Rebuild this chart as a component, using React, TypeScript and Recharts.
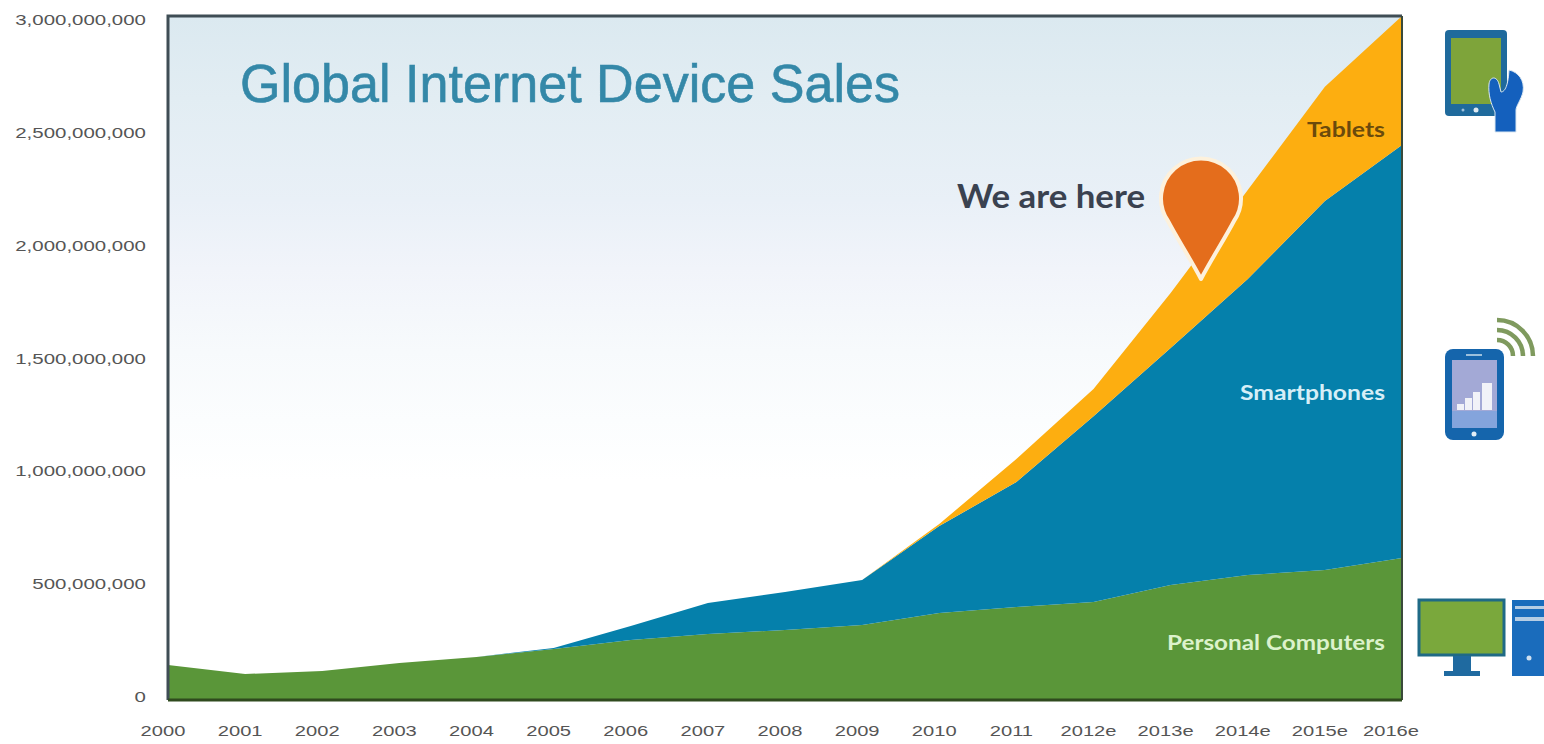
import React from "react";
import {
  AreaChart,
  Area,
  XAxis,
  YAxis,
  CartesianGrid,
} from "recharts";

// Annual unit sales, in millions
const years = ["2000", "2001", "2002", "2003", "2004", "2005", "2006", "2007", "2008", "2009", "2010", "2011", "2012e", "2013e", "2014e", "2015e", "2016e"];
const personalComputers = [153, 114, 127, 162, 189, 224, 263, 290, 307, 329, 382, 408, 430, 504, 548, 570, 623];
const smartphones = [0, 0, 0, 0, 0, 4, 62, 135, 167, 197, 381, 548, 815, 1040, 1298, 1619, 1811];
const tablets = [0, 0, 0, 0, 0, 0, 0, 0, 0, 0, 9, 101, 119, 241, 391, 501, 566];
const valueTicks = [0, 500000000, 1000000000, 1500000000, 2000000000, 2500000000, 3000000000];

const rows = years.map((year, i) => ({
  year,
  pc: personalComputers[i] * 1e6,
  phone: smartphones[i] * 1e6,
  tablet: tablets[i] * 1e6,
}));

const WIDTH = 1544;
const HEIGHT = 744;
const PLOT = { left: 168, top: 16, right: 1402, bottom: 700 };
const TICK_FONT = "'Liberation Sans', Arial, sans-serif";
const LABEL_FONT = "Lato, sans-serif";

function ValueTick({ y, payload }: any) {
  // labels sit slightly inside the plot height
  const labelY = 358.5 + (y - 358) * 0.99;
  return (
    <text
      transform={`translate(146 ${labelY}) scale(1.32 1)`}
      textAnchor="end"
      dominantBaseline="central"
      fontFamily={TICK_FONT}
      fontSize={15.5}
      fill="#555"
    >
      {payload.value.toLocaleString("en-US")}
    </text>
  );
}

function YearTick({ x, y, payload, index }: any) {
  const nudge = index === years.length - 1 ? -11 : -5;
  return (
    <text
      transform={`translate(${x + nudge} ${y + 28}) scale(1.3 1)`}
      textAnchor="middle"
      fontFamily={TICK_FONT}
      fontSize={15.5}
      fill="#555"
    >
      {payload.value}
    </text>
  );
}

function SeriesLabel({ x, y, width, fill, children }: any) {
  return (
    <text
      x={x}
      y={y}
      textLength={width}
      lengthAdjust="spacingAndGlyphs"
      fontFamily={LABEL_FONT}
      fontWeight={700}
      fontSize={20}
      fill={fill}
    >
      {children}
    </text>
  );
}

function TabletIcon() {
  return (
    <g>
      <rect x={1445} y={30} width={62} height={86} rx={4} fill="#1f6a9c" />
      <rect x={1451} y={38} width={50} height={66} fill="#7ea43a" />
      <circle cx={1476} cy={110} r={2.5} fill="#dfeaf2" />
      <circle cx={1463} cy={110} r={1.5} fill="#9cc0dc" />
      <path
        d="M1489 84 C1490 76 1497 76 1499 84 L1501 92 C1504 92 1508 88 1509 70 C1518 72 1525 80 1523 92 C1521 100 1516 106 1516 110 L1516 132 L1495 132 L1495 112 C1491 104 1488 94 1489 84 Z"
        fill="#1460bd"
        stroke="#dbe8f2"
        strokeWidth={1}
      />
    </g>
  );
}

function PhoneIcon() {
  return (
    <g>
      <rect x={1445} y={349} width={59} height={91} rx={8} fill="#1565ac" />
      <rect x={1452} y={360} width={45} height={68} fill="#a3a9d6" />
      <rect x={1452} y={411} width={45} height={17} fill="#84a4dc" />
      <rect x={1466} y={354} width={16} height={2} fill="#9cc0dc" />
      <circle cx={1474} cy={434} r={2.5} fill="#e3eef6" />
      <rect x={1457} y={404} width={7} height={6} fill="#f1f2f8" />
      <rect x={1465} y={398} width={7} height={12} fill="#f1f2f8" />
      <rect x={1473} y={392} width={7} height={18} fill="#f1f2f8" />
      <rect x={1482} y={383} width={10} height={27} fill="#f1f2f8" />
      {[16, 26, 36].map((r) => (
        <path
          key={r}
          d={`M1497 ${356 - r} A${r} ${r} 0 0 1 ${1497 + r} 356`}
          fill="none"
          stroke="#7f9a5e"
          strokeWidth={4.5}
        />
      ))}
    </g>
  );
}

function DesktopIcon() {
  return (
    <g>
      <rect x={1419} y={600} width={85} height={55} fill="#7aa83c" stroke="#1f6a86" strokeWidth={3} />
      <rect x={1453} y={656} width={18} height={15} fill="#1f6aa0" />
      <rect x={1444} y={671} width={36} height={5} fill="#1f6aa0" />
      <rect x={1512} y={600} width={32} height={76} fill="#1a6cbc" />
      <rect x={1515} y={606} width={29} height={3} fill="#b6cde4" />
      <rect x={1515} y={617} width={29} height={4} fill="#b6cde4" />
      <circle cx={1529} cy={658} r={2.5} fill="#cfe0f0" />
    </g>
  );
}

export default function App() {
  return (
    <div style={{ position: "absolute", left: 0, top: 0, width: WIDTH, height: HEIGHT, background: "#fff" }}>
      <AreaChart
        width={WIDTH}
        height={HEIGHT}
        data={rows}
        margin={{ left: 0, top: PLOT.top, right: WIDTH - PLOT.right, bottom: 0 }}
      >
        <defs>
          <linearGradient id="plotBg" x1="0" y1="0" x2="0" y2="1">
            <stop offset="0%" stopColor="#dbe9f0" />
            <stop offset="12%" stopColor="#e2edf3" />
            <stop offset="27%" stopColor="#e9f0f7" />
            <stop offset="37%" stopColor="#f1f4fa" />
            <stop offset="49%" stopColor="#f7fafc" />
            <stop offset="59%" stopColor="#fbfdfe" />
            <stop offset="68%" stopColor="#ffffff" />
          </linearGradient>
        </defs>
        <CartesianGrid horizontal={false} vertical={false} fill="url(#plotBg)" />
        <XAxis
          dataKey="year"
          scale="point"
          interval={0}
          height={HEIGHT - PLOT.bottom}
          axisLine={false}
          tickLine={false}
          tick={<YearTick />}
        />
        <YAxis
          width={PLOT.left}
          domain={[0, 3000000000]}
          ticks={valueTicks}
          axisLine={false}
          tickLine={false}
          tick={<ValueTick />}
        />
        <Area dataKey="pc" stackId="sales" stroke="none" fill="#5a9639" fillOpacity={1} isAnimationActive={false} />
        <Area dataKey="phone" stackId="sales" stroke="none" fill="#0580ab" fillOpacity={1} isAnimationActive={false} />
        <Area dataKey="tablet" stackId="sales" stroke="none" fill="#fdae10" fillOpacity={1} isAnimationActive={false} />
      </AreaChart>

      {/* frame, title, callouts and device icons over the plot */}
      <svg width={WIDTH} height={HEIGHT} style={{ position: "absolute", left: 0, top: 0, pointerEvents: "none" }}>
        <path d={`M${PLOT.left} ${PLOT.bottom} V${PLOT.top} H${PLOT.right}`} fill="none" stroke="#3f4d55" strokeWidth={3} />
        <path d={`M${PLOT.right} ${PLOT.top} V${PLOT.bottom}`} fill="none" stroke="#3a4a3a" strokeWidth={2} />
        <path d={`M${PLOT.left} ${PLOT.bottom} H${PLOT.right}`} fill="none" stroke="#2f4a1e" strokeWidth={3} />

        <text
          x={240}
          y={102}
          textLength={660}
          lengthAdjust="spacingAndGlyphs"
          fontFamily={TICK_FONT}
          fontSize={53}
          fill="#3488a8"
          stroke="#3488a8"
          strokeWidth={0.6}
        >
          Global Internet Device Sales
        </text>

        <SeriesLabel x={1307} y={137} width={78} fill="#6b4a0c">Tablets</SeriesLabel>
        <SeriesLabel x={1240} y={400} width={145} fill="#d6eef7">Smartphones</SeriesLabel>
        <SeriesLabel x={1167} y={650} width={218} fill="#dcf2cc">Personal Computers</SeriesLabel>

        <text
          x={957}
          y={208}
          textLength={188}
          lengthAdjust="spacingAndGlyphs"
          fontFamily={LABEL_FONT}
          fontWeight={700}
          fontSize={32}
          fill="#3a4250"
        >
          We are here
        </text>
        <path
          d="M1201 279 C1190 258 1178 240 1168 221 A40 40 0 1 1 1234 221 C1224 240 1212 258 1201 279 Z"
          fill="#e46d1c"
          stroke="#fdf1dc"
          strokeWidth={4}
          strokeLinejoin="round"
        />

        <TabletIcon />
        <PhoneIcon />
        <DesktopIcon />
      </svg>
    </div>
  );
}
